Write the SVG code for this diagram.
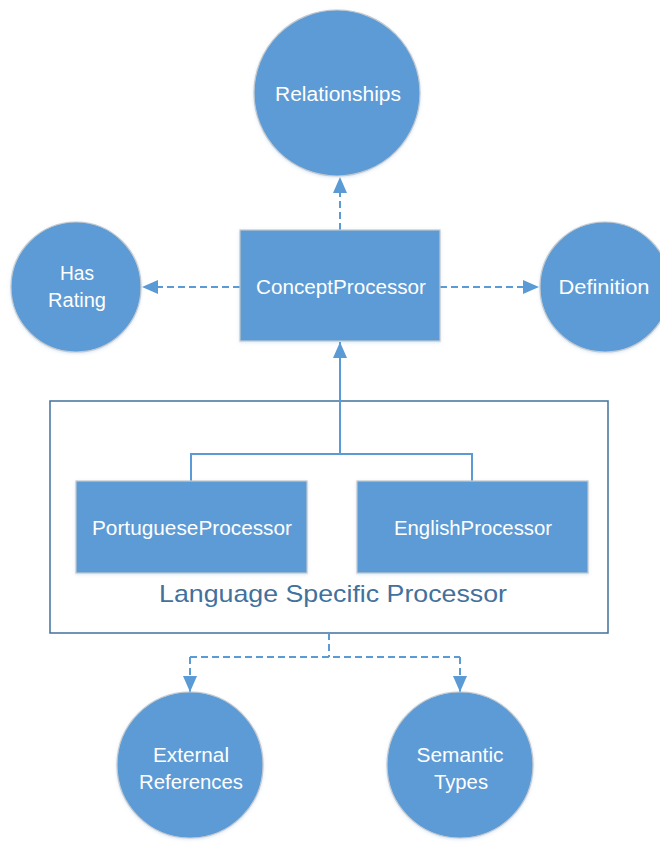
<svg xmlns="http://www.w3.org/2000/svg" width="660" height="844" viewBox="0 0 660 844">
  <style>
    .shape { fill: #5b9bd5; stroke: #c4c8cc; stroke-width: 1.2; filter: url(#soft); }
    .label { fill: #ffffff; font-family: "Liberation Sans", Arial, sans-serif; font-size: 20px; text-anchor: middle; }
    .group-box { fill: #ffffff; stroke: #41719c; stroke-width: 1.5; }
    .group-label { fill: #41719c; font-family: "Liberation Sans", Arial, sans-serif; font-size: 24px; text-anchor: middle; }
    .link { fill: none; stroke: #5b9bd5; stroke-width: 2; }
    .dashed { stroke-dasharray: 7 4; }
  </style>
  <defs>
    <filter id="soft" x="-10%" y="-10%" width="120%" height="120%">
      <feDropShadow dx="0" dy="1" stdDeviation="1.5" flood-color="#5b9bd5" flood-opacity="0.25"/>
    </filter>
    <marker id="head" markerUnits="userSpaceOnUse" markerWidth="16" markerHeight="14" refX="16" refY="7" orient="auto">
      <path d="M0,0 L16,7 L0,14 z" fill="#5b9bd5"/>
    </marker>
  </defs>

  <rect width="660" height="844" fill="#ffffff"/>

  <!-- Language specific group container -->
  <g id="language-specific-processor">
    <rect class="group-box" x="50" y="401" width="558" height="232"/>
    <text class="group-label" x="333" y="602" textLength="348" lengthAdjust="spacingAndGlyphs">Language Specific Processor</text>
  </g>

  <!-- Connectors -->
  <g id="connectors">
    <line class="link dashed" x1="340" y1="230" x2="340" y2="177" marker-end="url(#head)"/>
    <line class="link dashed" x1="240" y1="287" x2="142" y2="287" marker-end="url(#head)"/>
    <line class="link dashed" x1="440" y1="287" x2="539" y2="287" marker-end="url(#head)"/>
    <line class="link" x1="340" y1="454" x2="340" y2="342" marker-end="url(#head)"/>
    <polyline class="link" points="191,481 191,454 472,454 472,481"/>
    <line class="link dashed" x1="329" y1="633" x2="329" y2="657"/>
    <line class="link dashed" x1="190" y1="657" x2="460" y2="657"/>
    <line class="link dashed" x1="190" y1="657" x2="190" y2="692" marker-end="url(#head)"/>
    <line class="link dashed" x1="460" y1="657" x2="460" y2="692" marker-end="url(#head)"/>
  </g>

  <g id="relationships">
    <circle class="shape" cx="337" cy="93" r="83"/>
    <text class="label" x="338" y="101" textLength="126" lengthAdjust="spacingAndGlyphs">Relationships</text>
  </g>

  <g id="concept-processor">
    <rect class="shape" x="240" y="230" width="200" height="111"/>
    <text class="label" x="341" y="294" textLength="170" lengthAdjust="spacingAndGlyphs">ConceptProcessor</text>
  </g>

  <g id="has-rating">
    <circle class="shape" cx="76" cy="287" r="65"/>
    <text class="label" x="77" y="280" textLength="34" lengthAdjust="spacingAndGlyphs">Has</text>
    <text class="label" x="77" y="307" textLength="58" lengthAdjust="spacingAndGlyphs">Rating</text>
  </g>

  <g id="definition">
    <circle class="shape" cx="605" cy="287" r="65"/>
    <text class="label" x="604" y="294" textLength="91" lengthAdjust="spacingAndGlyphs">Definition</text>
  </g>

  <g id="portuguese-processor">
    <rect class="shape" x="76" y="481" width="231" height="92"/>
    <text class="label" x="192" y="535" textLength="200" lengthAdjust="spacingAndGlyphs">PortugueseProcessor</text>
  </g>

  <g id="english-processor">
    <rect class="shape" x="357" y="481" width="231" height="92"/>
    <text class="label" x="473" y="535" textLength="158" lengthAdjust="spacingAndGlyphs">EnglishProcessor</text>
  </g>

  <g id="external-references">
    <circle class="shape" cx="190" cy="765" r="73"/>
    <text class="label" x="191" y="762" textLength="76" lengthAdjust="spacingAndGlyphs">External</text>
    <text class="label" x="191" y="789" textLength="104" lengthAdjust="spacingAndGlyphs">References</text>
  </g>

  <g id="semantic-types">
    <circle class="shape" cx="460" cy="765" r="73"/>
    <text class="label" x="460" y="762" textLength="87" lengthAdjust="spacingAndGlyphs">Semantic</text>
    <text class="label" x="461" y="789" textLength="54" lengthAdjust="spacingAndGlyphs">Types</text>
  </g>
</svg>
